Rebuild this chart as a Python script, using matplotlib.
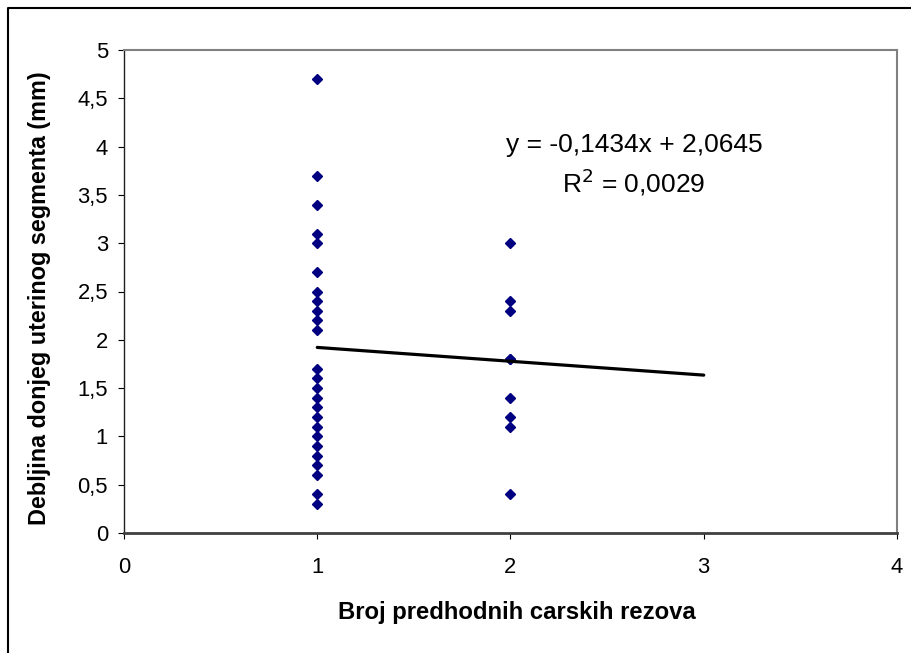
import matplotlib
matplotlib.use("Agg")
import matplotlib.pyplot as plt
from matplotlib.lines import Line2D
from matplotlib.ticker import FuncFormatter, MultipleLocator

plt.rcParams['font.family'] = ['Liberation Sans', 'DejaVu Sans']

# Data
x_one = [1] * 25
y_one = [4.7, 3.7, 3.4, 3.1, 3.0, 2.7, 2.5, 2.4, 2.3, 2.2, 2.1, 1.7, 1.6, 1.5,
         1.4, 1.3, 1.2, 1.1, 1.0, 0.9, 0.8, 0.7, 0.6, 0.4, 0.3]
x_two = [2] * 9
y_two = [3.0, 2.4, 2.3, 1.8, 1.8, 1.4, 1.2, 1.1, 0.4]

slope = -0.1434
intercept = 2.0645
r_squared = 0.0029
trend_x = [1, 3]

x_label = "Broj predhodnih carskih rezova"
y_label = "Debljina donjeg uterinog segmenta (mm)"

W, H = 912, 653
fig = plt.figure(figsize=(W / 100, H / 100), dpi=100)
ax = fig.add_axes([124 / W, 1 - 533 / H, (897 - 124) / W, (533 - 50) / H])

xs = x_one + x_two
ys = y_one + y_two
ax.plot(xs, ys, linestyle='none', marker='D', markersize=5.6,
        color='#000080', markeredgecolor='#000080', zorder=3)

trend_y = [slope * v + intercept for v in trend_x]
ax.plot(trend_x, trend_y, color='black', linewidth=2.3, zorder=4,
        solid_capstyle='round')

ax.set_xlim(0, 4)
ax.set_ylim(0, 5)
ax.xaxis.set_major_locator(MultipleLocator(1))
ax.yaxis.set_major_locator(MultipleLocator(0.5))

def comma(v, pos):
    s = f"{v:g}"
    return s.replace('.', ',')

ax.xaxis.set_major_formatter(FuncFormatter(comma))
ax.yaxis.set_major_formatter(FuncFormatter(comma))

for side in ['top', 'right']:
    ax.spines[side].set_color('#808080')
    ax.spines[side].set_linewidth(1.5)
ax.spines['left'].set_color('#202020')
ax.spines['left'].set_linewidth(1.0)
ax.spines['bottom'].set_color('#404040')
ax.spines['bottom'].set_linewidth(2.0)

ax.tick_params(axis='both', direction='out', length=4.5, width=0.8,
               colors='black', labelsize=15.8)
ax.tick_params(axis='x', pad=13)
ax.tick_params(axis='y', pad=7)

fig.text(517 / W, 1 - 612 / H, x_label, ha='center', va='center',
         fontsize=17.2, fontweight='bold')
fig.text(40 / W, 1 - 298 / H, y_label, ha='center', va='center',
         rotation=90, fontsize=16.8, fontweight='bold')

eq = f"y = {slope:.4f}x + {intercept:.4f}".replace('.', ',')
r2 = "R$^{2}$ = " + f"{r_squared:.4f}".replace('.', ',')
fig.text(634 / W, 1 - 145 / H, eq, ha='center', va='center', fontsize=19)
fig.text(634 / W, 1 - 182 / H, r2, ha='center', va='center', fontsize=19)

fig.lines.append(Line2D([8 / W, 8 / W, 1], [0, 1 - 8 / H, 1 - 8 / H],
                        transform=fig.transFigure, color='black', linewidth=1.5))

fig.savefig("out.png", dpi=100)
